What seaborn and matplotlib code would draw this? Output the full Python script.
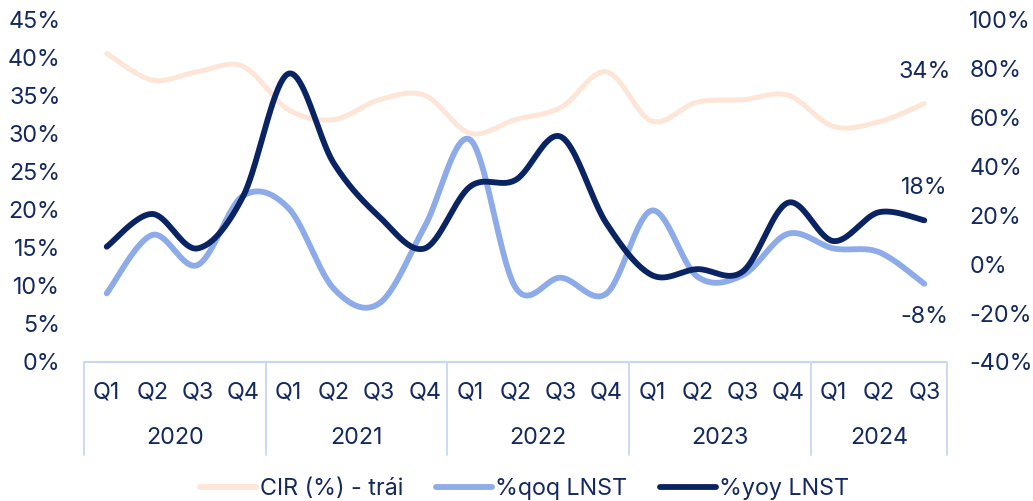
import numpy as np
import pandas as pd
import matplotlib
matplotlib.use("Agg")
import matplotlib.pyplot as plt
import matplotlib.transforms as mtransforms
from matplotlib.lines import Line2D
import seaborn as sns

# ---- data ----
years = ["2020", "2021", "2022", "2023", "2024"]
quarters = ["Q1", "Q2", "Q3", "Q4"] * 4 + ["Q1", "Q2", "Q3"]
cir = [40.6, 37.1, 38.2, 38.9, 33.2, 31.9, 34.5, 35.1, 30.1, 31.9,
       33.5, 38.2, 31.7, 34.2, 34.5, 35.1, 31.0, 31.6, 34.0]
qoq = [-11.9, 12.0, -0.3, 28.0, 23.0, -10.0, -16.0, 15.4, 51.0, -9.5,
       -5.5, -12.0, 22.0, -5.0, -4.5, 12.5, 6.5, 5.0, -8.0]
yoy = [7.2, 20.6, 6.5, 27.7, 78.0, 41.3, 19.5, 6.5, 31.8, 34.5,
       52.2, 16.8, -4.4, -2.0, -3.0, 25.2, 9.5, 21.3, 18.0]
series_names = ["CIR (%) - trái", "%qoq LNST", "%yoy LNST"]

C_CIR = "#fde6d8"
C_QOQ = "#8eabe9"
C_YOY = "#0a2463"
C_TXT = "#14295e"
C_AXIS = "#c8d7f2"

sns.set_theme(style="white")
plt.rcParams["font.family"] = ["Inter", "DejaVu Sans"]
plt.rcParams["text.color"] = C_TXT
FS = 16.8


def smooth(values, n=40):
    """Cubic Bezier smoothing through every point (Catmull-Rom control points)."""
    P = np.column_stack([np.arange(len(values), dtype=float), np.asarray(values, float)])
    out = []
    last = len(P) - 2
    for i in range(len(P) - 1):
        p0 = P[i - 1] if i > 0 else P[i]
        p1, p2 = P[i], P[i + 1]
        p3 = P[i + 2] if i + 2 < len(P) else P[i + 1]
        c1 = p1 + (p2 - p0) / 6.0
        c2 = p2 - (p3 - p1) / 6.0
        t = np.linspace(0, 1, n, endpoint=(i == last))[:, None]
        out.append((1 - t) ** 3 * p1 + 3 * (1 - t) ** 2 * t * c1
                   + 3 * (1 - t) * t ** 2 * c2 + t ** 3 * p2)
    pts = np.vstack(out)
    return pd.DataFrame({"x": pts[:, 0], "y": pts[:, 1]})


fig = plt.figure(figsize=(10.33, 5.01), dpi=100)
ax = fig.add_axes([84 / 1033, 1 - 362 / 501, (947 - 84) / 1033, 342 / 501])
ax2 = ax.twinx()

d = smooth(cir)
sns.lineplot(data=d, x="x", y="y", ax=ax, sort=False, estimator=None,
             color=C_CIR, lw=3.6, solid_capstyle="round")
d = smooth(qoq)
sns.lineplot(data=d, x="x", y="y", ax=ax2, sort=False, estimator=None,
             color=C_QOQ, lw=4.2, solid_capstyle="round")
d = smooth(yoy)
sns.lineplot(data=d, x="x", y="y", ax=ax2, sort=False, estimator=None,
             color=C_YOY, lw=4.2, solid_capstyle="round")

n = len(quarters)
ax.set_xlim(-0.5, n - 0.5)
ax.set_ylim(0, 45)
ax2.set_ylim(-40, 100)
ax.set_yticks(np.arange(0, 46, 5))
ax.set_yticklabels([f"{v}%" for v in range(0, 46, 5)])
ax2.set_yticks(np.arange(-40, 101, 20))
ax2.set_yticklabels([f"{v}%" for v in range(-40, 101, 20)])
ax.set_xticks([])
for a in (ax, ax2):
    a.set_xlabel("")
    a.set_ylabel("")
    a.grid(False)
    for s in ("top", "left", "right", "bottom"):
        a.spines[s].set_visible(False)
ax.tick_params(axis="y", length=0, pad=17, labelsize=FS, labelcolor=C_TXT)
ax2.tick_params(axis="y", length=0, pad=16, labelsize=FS, labelcolor=C_TXT)

# category axis: base line, group separators, quarter and year labels
trans = mtransforms.blended_transform_factory(ax.transData, ax.transAxes)
ax.plot([-0.5, n - 0.5], [0, 0], transform=trans, color=C_AXIS, lw=1.5,
        clip_on=False, solid_capstyle="butt")
bounds = [-0.5, 3.5, 7.5, 11.5, 15.5, n - 0.5]
for b in bounds:
    ax.plot([b, b], [0, -0.272], transform=trans, color=C_AXIS, lw=1.3,
            clip_on=False)
for i, q in enumerate(quarters):
    ax.text(i, -31 / 342, q, transform=trans, ha="center", va="center",
            fontsize=FS, color=C_TXT)
for k, yr in enumerate(years):
    ax.text((bounds[k] + bounds[k + 1]) / 2, -76 / 342, yr, transform=trans,
            ha="center", va="center", fontsize=FS, color=C_TXT)

# end-of-series value labels
last = n - 1
ax.annotate(f"{cir[-1]:.0f}%", (last, cir[-1]), xytext=(0, 23),
            textcoords="offset points", ha="center", va="center",
            fontsize=FS, color=C_TXT)
ax2.annotate(f"{yoy[-1]:.0f}%", (last, yoy[-1]), xytext=(0, 23),
             textcoords="offset points", ha="center", va="center",
             fontsize=FS, color=C_TXT)
ax2.annotate(f"{qoq[-1]:.0f}%", (last, qoq[-1]), xytext=(0, -24),
             textcoords="offset points", ha="center", va="center",
             fontsize=FS, color=C_TXT)

handles = [Line2D([], [], color=c, lw=4.2, solid_capstyle="round")
           for c in (C_CIR, C_QOQ, C_YOY)]
fig.legend(handles, series_names, loc="center", ncol=3, frameon=False,
           bbox_to_anchor=(0.508, 1 - 489 / 501), fontsize=FS,
           handlelength=2.4, handletextpad=0.15, columnspacing=1.4,
           labelcolor=C_TXT)

fig.savefig("out.png", dpi=100)
